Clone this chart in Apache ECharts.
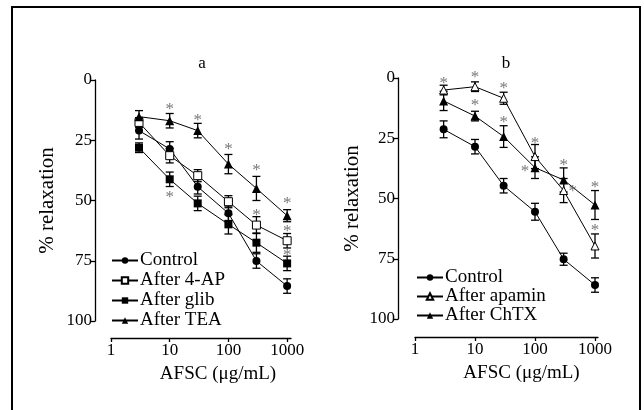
<!DOCTYPE html>
<html>
<head>
<meta charset="utf-8">
<script src="https://cdn.jsdelivr.net/npm/echarts@6/dist/echarts.min.js"></script>
<style>
  html, body { margin: 0; padding: 0; background: #fff; }
  #chart { width: 644px; height: 410px; }
</style>
</head>
<body>
<div id="chart"></div>
<script>
// concentrations (AFSC, ug/mL)
const doses = [3, 10, 30, 100, 300, 1000];
const xTicks = [1, 10, 100, 1000];

// panel a
const aControl = [21, 28.6, 44.3, 55.3, 75.1, 85.5];
const aControlErr = [3.5, 3, 3, 3, 3, 3];
const a4AP = [17.6, 31.4, 39.7, 50.5, 60.2, 66.7];
const a4APErr = [2, 3, 2.5, 2.5, 3.5, 3];
const aGlib = [28.1, 41.2, 51.2, 59.9, 67.5, 76.1];
const aGlibErr = [2, 3, 3, 4, 4, 3];
const aTEA = [15.2, 16.9, 21, 34.9, 45, 56.3];
const aTEAErr = [2.5, 3, 3, 4, 5, 2.5];
// asterisks panel a: [dose, % relaxation]
const aStars = [[10, 10.4], [30, 15], [100, 27], [300, 36], [1000, 49.8],
                [10, 47], [300, 54.6], [1000, 61.4], [1000, 71.2]];

// panel b
const bControl = [21.3, 28.5, 44.7, 55.5, 75.2, 85.9];
const bControlErr = [3.5, 3, 3, 3.5, 2.5, 3];
const bApamin = [5, 3.6, 8.4, 32.6, 46.7, 69.7];
const bApaminErr = [2, 2, 2.5, 5, 5, 5];
const bChTX = [9.5, 15.8, 24.3, 37.2, 42.3, 52.7];
const bChTXErr = [4, 2, 4.5, 4.5, 5, 6];
const bStars = [[3, 0.8], [10, -1.7], [30, 2.9], [100, 25.7], [300, 45.6],
                [10, 9.8], [30, 17], [100, 37.2], [300, 34.7], [1000, 43.6], [1000, 61.7]];
// horizontal nudges for a few asterisks in b (px)
const bStarShift = [0, 0, 0, 0, 9, 0, 0, -10, 0, 0, 0];

const serif = 'Liberation Serif';
const chart = echarts.init(document.getElementById('chart'));

function pts(vals) {
  return doses.map((d, i) => [d, vals[i]]);
}
function errData(vals, errs) {
  return doses.map((d, i) => [d, vals[i] - errs[i], vals[i] + errs[i]]);
}
function errSeries(vals, errs, idx) {
  return {
    type: 'custom',
    xAxisIndex: idx, yAxisIndex: idx,
    data: errData(vals, errs),
    clip: false,
    z: 1,
    silent: true,
    renderItem: function (params, api) {
      const lo = api.coord([api.value(0), api.value(1)]);
      const hi = api.coord([api.value(0), api.value(2)]);
      const w = 4;
      const st = { stroke: '#000', lineWidth: 1.3 };
      return {
        type: 'group',
        children: [
          { type: 'line', shape: { x1: lo[0], y1: lo[1], x2: hi[0], y2: hi[1] }, style: st },
          { type: 'line', shape: { x1: lo[0] - w, y1: lo[1], x2: lo[0] + w, y2: lo[1] }, style: st },
          { type: 'line', shape: { x1: hi[0] - w, y1: hi[1], x2: hi[0] + w, y2: hi[1] }, style: st }
        ]
      };
    }
  };
}
function lineSeries(name, vals, idx, symbol, size, open) {
  return {
    name: name,
    type: 'line',
    xAxisIndex: idx, yAxisIndex: idx,
    data: pts(vals),
    symbol: symbol,
    symbolSize: size,
    showSymbol: true,
    clip: false,
    z: 3,
    lineStyle: { color: '#000', width: 1 },
    itemStyle: { color: open ? '#fff' : '#000', borderColor: '#000', borderWidth: open ? 1 : 0 },
    emphasis: { disabled: true }
  };
}
function starSeries(stars, idx, shifts) {
  return {
    type: 'scatter',
    xAxisIndex: idx, yAxisIndex: idx,
    symbolSize: 0,
    clip: false,
    silent: true,
    z: 4,
    data: stars.map((s, i) => ({
      value: s,
      label: { offset: [shifts ? shifts[i] : 0, 4] }
    })),
    label: {
      show: true, position: 'inside', formatter: '*',
      color: '#555', fontSize: 17, fontFamily: serif
    }
  };
}
function xAxisCfg(idx, max, offset, pad) {
  return {
    type: 'log', gridIndex: idx, position: 'bottom', min: 1, max: max, offset: offset,
    name: 'AFSC (μg/mL)', nameLocation: 'middle', nameGap: 27,
    nameTextStyle: { fontFamily: serif, fontSize: 19, color: '#000', padding: [0, 0, 0, pad] },
    axisLine: { show: true, onZero: false, lineStyle: { color: '#000', width: 1.3 } },
    axisTick: { show: true, length: 4, customValues: xTicks, lineStyle: { color: '#000', width: 1.3 } },
    axisLabel: { customValues: xTicks, formatter: v => String(Math.round(v)),
      fontFamily: serif, fontSize: 17, color: '#000', margin: 4 },
    splitLine: { show: false }
  };
}
function yAxisCfg(idx, offset, gap) {
  return {
    type: 'value', gridIndex: idx, position: 'left', inverse: true, min: 0, max: 100, interval: 25, offset: offset,
    name: '% relaxation', nameLocation: 'middle', nameGap: gap,
    nameTextStyle: { fontFamily: serif, fontSize: 21, color: '#000' },
    axisLine: { show: true, onZero: false, lineStyle: { color: '#000', width: 1.3 } },
    axisTick: { show: true, length: 5, lineStyle: { color: '#000', width: 1.3 } },
    axisLabel: { fontFamily: serif, fontSize: 17, color: '#000', margin: 3 },
    splitLine: { show: false }
  };
}

const option = {
  backgroundColor: '#fff',
  animation: false,
  title: [
    { text: 'a', left: 197, top: 50, textAlign: 'center',
      textStyle: { fontFamily: serif, fontSize: 17, fontWeight: 'normal', color: '#000' } },
    { text: 'b', left: 501, top: 50, textAlign: 'center',
      textStyle: { fontFamily: serif, fontSize: 17, fontWeight: 'normal', color: '#000' } }
  ],
  graphic: [
    { type: 'rect', shape: { x: 12, y: 7, width: 628, height: 420 },
      style: { fill: 'none', stroke: '#000', lineWidth: 2 }, silent: true }
  ],
  legend: [
    { data: ['Control', 'After 4-AP', 'After glib', 'After TEA'], orient: 'vertical',
      left: 106, top: 246, itemWidth: 26, itemHeight: 8, itemGap: 1, selectedMode: false,
      textStyle: { fontFamily: serif, fontSize: 19, lineHeight: 17, color: '#000', padding: [0, 0, 0, -3] } },
    { data: ['Control', 'After apamin', 'After ChTX'], orient: 'vertical',
      left: 411, top: 263, itemWidth: 26, itemHeight: 8, itemGap: 0, selectedMode: false,
      textStyle: { fontFamily: serif, fontSize: 19, lineHeight: 17, color: '#000', padding: [0, 0, 0, -3] } }
  ],
  grid: [
    { left: 111, right: 353, top: 80, bottom: 89 },
    { left: 415, right: 46, top: 78, bottom: 91 }
  ],
  xAxis: [xAxisCfg(0, 1164, 17, 34), xAxisCfg(1, 1122, 18, 30)],
  yAxis: [yAxisCfg(0, 16, 37), yAxisCfg(1, 17, 35)],
  series: [
    errSeries(aControl, aControlErr, 0),
    errSeries(a4AP, a4APErr, 0),
    errSeries(aGlib, aGlibErr, 0),
    errSeries(aTEA, aTEAErr, 0),
    lineSeries('Control', aControl, 0, 'circle', 8, false),
    lineSeries('After 4-AP', a4AP, 0, 'rect', 8, true),
    lineSeries('After glib', aGlib, 0, 'rect', 8, false),
    lineSeries('After TEA', aTEA, 0, 'triangle', 9, false),
    starSeries(aStars, 0, null),

    errSeries(bControl, bControlErr, 1),
    errSeries(bApamin, bApaminErr, 1),
    errSeries(bChTX, bChTXErr, 1),
    lineSeries('Control', bControl, 1, 'circle', 8, false),
    lineSeries('After apamin', bApamin, 1, 'triangle', 8, true),
    lineSeries('After ChTX', bChTX, 1, 'triangle', 9, false),
    starSeries(bStars, 1, bStarShift)
  ]
};
chart.setOption(option);
</script>
</body>
</html>
